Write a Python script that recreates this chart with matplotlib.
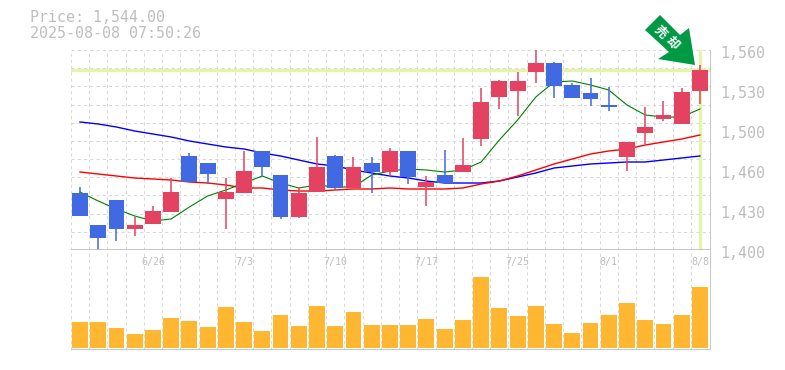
import numpy as np
import matplotlib
matplotlib.use('Agg')
import matplotlib.pyplot as plt
from matplotlib.patches import Polygon

### DATA
opens = [1445.6,1420,1440,1416.8,1420.8,1430.4,1475.2,1469.6,1440.8,1445.6,1479.2,1460,1426.4,1446.4,1475.2,1449.6,1469.6,1462.4,1479.2,1450.4,1460,1462.4,1488.8,1522.4,1527.2,1542.4,1549.6,1532,1525.6,1516,1474.4,1493.6,1504.8,1500.8,1527.2]
closes = [1427.2,1409.6,1416.8,1420,1431.2,1446.4,1454.4,1460.8,1446.4,1463.2,1466.4,1426.4,1445.6,1466.4,1449.6,1466.4,1462.4,1479.2,1458.4,1454.4,1453.6,1468,1518.4,1535.2,1535.2,1549.6,1531.2,1521.6,1520.8,1514.4,1486.4,1498.4,1508,1526.4,1544]
highs = [1450.4,1420,1440,1426.4,1435.2,1457.6,1477.6,1469.6,1457.6,1479.2,1479.2,1460,1450.4,1490.4,1476,1474.4,1474.4,1481.6,1479.2,1459.2,1480,1489.6,1529.6,1536,1542.4,1560,1550.4,1533.6,1537.6,1530.4,1486.4,1514.4,1519.2,1529.6,1548]
lows = [1427.2,1399.6,1407.2,1411.2,1420.8,1430.4,1454.4,1452.8,1416.8,1445.6,1458.4,1424.8,1425.6,1446.4,1448.8,1449.6,1445.6,1459.2,1452.8,1435.2,1453.6,1462.4,1483.2,1512.8,1507.2,1533.6,1521.6,1521.6,1515.2,1511.2,1463.2,1484.8,1503.2,1500.8,1516.8]
ma_short = [1446.4,1439.2,1432.8,1427.2,1423.2,1424.8,1434.4,1443.2,1448,1453.6,1459.2,1453.6,1449.6,1452,1450.4,1450.4,1460,1463.2,1464.8,1464,1462.4,1464,1470.4,1488,1504,1522.4,1534.4,1535.2,1532,1528,1516,1508,1506.4,1506.4,1512.8]
ma_mid = [1462.4,1460.8,1459.2,1457.6,1456.8,1456,1454.4,1453.6,1452,1449.6,1449.6,1448,1447.2,1447.2,1448,1448.8,1448.8,1449.6,1448.8,1448.8,1448.8,1449.6,1452.8,1455.2,1459.2,1464,1468.8,1472.8,1476.8,1479.2,1480.8,1484,1486.4,1488.8,1492]
ma_long = [1502.4,1500.8,1498.4,1495.2,1492.8,1490.4,1487.2,1484.8,1482.4,1480.8,1477.6,1475.2,1472,1468.8,1467.2,1464,1461.6,1459.2,1457.6,1455.2,1453.6,1453.6,1453.6,1455.2,1458.4,1461.6,1465.6,1467.2,1468.8,1469.6,1470.4,1470.4,1472,1473.6,1475.2]
volume = [26,26,20,14,18,30,27,21,41,26,17,33,22,42,22,36,23,23,23,29,19,28,71,40,32,42,24,15,25,33,45,28,24,33,61]
price_now = 1544
date_ticks = [4,9,14,19,24,29,34]
date_labels = ['6/26','7/3','7/10','7/17','7/25','8/1','8/8']
price_ticks = [1560,1528,1496,1464,1432,1400]
price_labels = ['1,560','1,530','1,500','1,460','1,430','1,400']

### STYLE
W, H = 785, 370
up_col = '#e34360'
down_col = '#4169e1'
vol_col = '#ffb732'
grid_col = '#d8d8d8'
frame_col = '#c0c0c0'
text_col = '#bebebe'
mark_col = '#e4f4a8'
mono = 'DejaVu Sans Mono'

fig = plt.figure(figsize=(W/100, H/100), dpi=100)
# axes placed by pixel box
def box(x0, y0, x1, y1):
    return [x0/W, 1-y1/H, (x1-x0)/W, (y1-y0)/H]
ax = fig.add_axes(box(70.5, 50, 710.5, 250))
ax2 = fig.add_axes(box(70.5, 250, 710.5, 350))

x = np.arange(len(opens))
xlim = (-0.52, 34.58)
gridx = np.arange(35) - 0.5
for a in (ax, ax2):
    a.set_xlim(xlim)
    a.set_xticks([])
    a.set_yticks([])
    for k in a.spines:
        a.spines[k].set_visible(False)
    a.patch.set_alpha(0)
    a.vlines(gridx, 0, 1, transform=a.get_xaxis_transform(), color=grid_col, lw=0.75, ls=(0, (3, 3)), zorder=1)

ax.set_ylim(1400, 1560)
ax2.set_ylim(-2, 98)

# horizontal dashed grid, 11 bands
for g in np.linspace(1400, 1560, 12)[1:]:
    ax.axhline(g, color=grid_col, lw=0.75, ls=(0, (3, 3)), zorder=1)

# current price cross
ax.axhline(price_now, color=mark_col, lw=2.4, zorder=2)
ax.axvline(x[-1], color=mark_col, lw=2.4, zorder=2, ymin=0, ymax=1)

# moving averages
ax.plot(x, ma_long, color='#0000ff', lw=1.0, zorder=3)
ax.plot(x, ma_mid, color='#ff0000', lw=1.0, zorder=3)
ax.plot(x, ma_short, color='#008000', lw=0.8, zorder=3)

# candles
for i in x:
    col = up_col if closes[i] >= opens[i] else down_col
    ax.vlines(i, lows[i], highs[i], color=col, lw=1.1, zorder=4)
    ax.bar(i, abs(closes[i]-opens[i]), bottom=min(opens[i], closes[i]), width=0.87, color=col, zorder=5)

ax2.bar(x, volume, width=0.87, color=vol_col, zorder=3)

# frame lines
for a in (ax, ax2):
    a.axvline(xlim[1], color=frame_col, lw=1.3, zorder=6)
    a.axhline(a.get_ylim()[0], color=frame_col, lw=1.3, zorder=6)

# tick labels
for t, lab in zip(date_ticks, date_labels):
    ax2.annotate(lab, (t, 1), xycoords=('data', 'axes fraction'), xytext=(0, -12), textcoords='offset pixels',
                 ha='center', va='center', family=mono, fontsize=7.2, color=text_col)
for p, lab in zip(price_ticks, price_labels):
    ax.annotate(lab, (1, p), xycoords=('axes fraction', 'data'), xytext=(10, -3), textcoords='offset pixels',
                ha='left', va='center', family=mono, fontsize=10.8, color=text_col)

fig.text(30/W, 1-18/H, 'Price: 1,544.00', family=mono, fontsize=10.8, color=text_col, va='center')
fig.text(30/W, 1-33/H, '2025-08-08 07:50:26', family=mono, fontsize=10.8, color=text_col, va='center')

# green arrow badge
arrow = [(660,15),(645,30),(669,52),(658,59),(695,65),(689,28),(680,35)]
fig.add_artist(Polygon([(px/W, 1-py/H) for px, py in arrow], closed=True, transform=fig.transFigure, color='#009944', lw=0, zorder=10))
for ch, cx, cy in [('売', 660, 32), ('却', 672, 43)]:
    fig.text(cx/W, 1-cy/H, ch, family=['Noto Sans CJK JP', 'DejaVu Sans'], fontsize=9, fontweight='bold', color='white',
             rotation=-45, rotation_mode='anchor', ha='center', va='center', zorder=11)

fig.savefig('out.png', dpi=100)
